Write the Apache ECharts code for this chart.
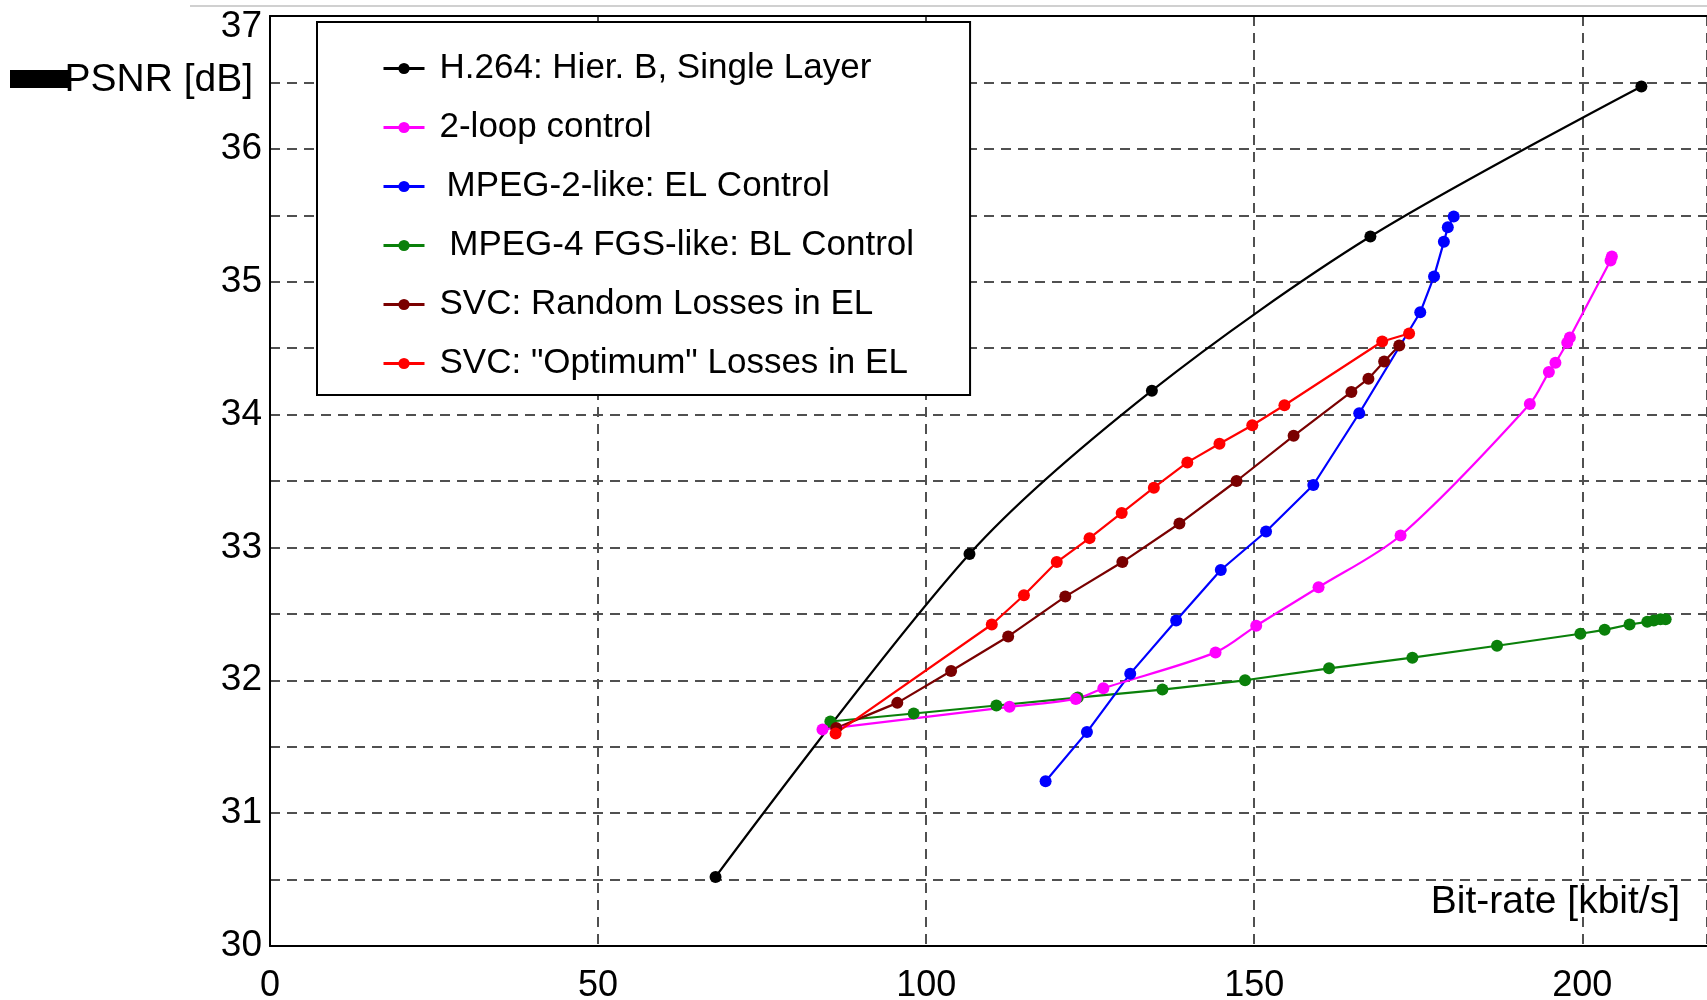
<!DOCTYPE html>
<html>
<head>
<meta charset="utf-8">
<script src="https://cdn.jsdelivr.net/npm/echarts@6/dist/echarts.min.js"></script>
<style>
  html, body { margin: 0; padding: 0; background: #fff; }
  #main { width: 1707px; height: 1000px; }
</style>
</head>
<body>
<div id="main"></div>
<script>
// series names as in the legend
var names = [
  'H.264: Hier. B, Single Layer',
  '2-loop control',
  '\u2009MPEG-2-like: EL Control',
  ' MPEG-4 FGS-like: BL Control',
  'SVC: Random Losses in EL',
  'SVC: "Optimum" Losses in EL'
];

// [bit-rate kbit/s, PSNR dB]
var h264 = [[67.9, 30.52], [106.6, 32.95], [134.4, 34.18], [167.7, 35.34], [209.0, 36.47]];
var twoLoop = [[84.2, 31.63], [112.7, 31.80], [122.8, 31.86], [127.0, 31.94], [144.1, 32.21],
  [150.3, 32.41], [159.8, 32.70], [172.3, 33.09], [192.0, 34.08], [194.9, 34.32],
  [195.9, 34.39], [197.7, 34.54], [198.1, 34.58], [204.3, 35.16], [204.5, 35.19]];
var mpeg2 = [[118.2, 31.24], [124.5, 31.61], [131.1, 32.05], [138.1, 32.45], [144.9, 32.83],
  [151.8, 33.12], [159.0, 33.47], [166.0, 34.01], [175.3, 34.77], [177.4, 35.04],
  [178.9, 35.30], [179.5, 35.41], [180.4, 35.49]];
var mpeg4 = [[85.4, 31.69], [98.1, 31.75], [110.7, 31.81], [123.1, 31.87], [136.0, 31.93],
  [148.6, 32.00], [161.4, 32.09], [174.1, 32.17], [187.0, 32.26], [199.7, 32.35],
  [203.4, 32.38], [207.2, 32.42], [209.9, 32.44], [210.9, 32.45], [211.9, 32.46], [212.7, 32.46]];
var svcRandom = [[86.3, 31.64], [95.6, 31.83], [103.8, 32.07], [112.5, 32.33], [121.2, 32.63],
  [129.9, 32.89], [138.6, 33.18], [147.3, 33.50], [156.0, 33.84], [164.8, 34.17],
  [167.4, 34.27], [169.8, 34.40], [172.1, 34.52]];
var svcOptimum = [[86.2, 31.60], [110.0, 32.42], [114.9, 32.64], [119.9, 32.89], [124.9, 33.07],
  [129.8, 33.26], [134.7, 33.45], [139.8, 33.64], [144.7, 33.78], [149.7, 33.92],
  [154.6, 34.07], [169.5, 34.55], [173.6, 34.61]];

var xTicks = [0, 50, 100, 150, 200];
var yTicks = [30, 31, 32, 33, 34, 35, 36, 37];

var font = '"Liberation Sans", Arial, sans-serif';
var gridDash = { color: '#505050', width: 2, type: [10, 7] };

function line(name, data, color, smooth) {
  return {
    name: name,
    type: 'line',
    data: data,
    smooth: smooth ? 0.3 : false,
    symbol: 'circle',
    symbolSize: 12,
    showAllSymbol: true,
    itemStyle: { color: color },
    lineStyle: { color: color, width: 2.2 }
  };
}

var chartDom = document.getElementById('main');
var myChart = echarts.init(chartDom);

var option = {
  animation: false,
  backgroundColor: '#fff',
  textStyle: { fontFamily: font },
  grid: { left: 270, top: 16, right: 0, bottom: 54, containLabel: false, outerBoundsMode: 'none' },
  legend: {
    data: names,
    orient: 'vertical',
    left: 317,
    top: 22,
    backgroundColor: '#fff',
    borderColor: '#000',
    borderWidth: 2,
    borderRadius: 0,
    padding: [29, 56, 14, 65],
    itemGap: 24,
    itemWidth: 41,
    itemHeight: 14,
    lineStyle: { width: 3 },
    textStyle: { fontSize: 35, lineHeight: 35, color: '#000', fontFamily: font, padding: [0, 0, 0, 10] }
  },
  xAxis: [{
    type: 'value',
    min: 0,
    max: 219,
    interval: 50,
    axisLine: { lineStyle: { color: '#000', width: 2 } },
    axisTick: { show: false },
    axisLabel: {
      fontSize: 36, color: '#000', margin: 22, fontFamily: font,
      formatter: function (v) { return xTicks.indexOf(v) >= 0 ? String(v) : ''; }
    },
    splitLine: { show: true, lineStyle: gridDash }
  }, {
    type: 'value',
    position: 'top',
    min: 0,
    max: 219,
    axisLine: { show: true, lineStyle: { color: '#000', width: 2 } },
    axisTick: { show: false },
    axisLabel: { show: false },
    splitLine: { show: false }
  }],
  yAxis: {
    type: 'value',
    min: 30,
    max: 37,
    interval: 0.5,
    axisLine: { show: true, lineStyle: { color: '#000', width: 2 } },
    axisTick: { show: false },
    axisLabel: {
      fontSize: 37, color: '#000', margin: 8, fontFamily: font,
      formatter: function (v) {
        if (v === 37) return '{top|37}';
        return yTicks.indexOf(v) >= 0 ? String(v) : '';
      },
      rich: { top: { fontSize: 37, color: '#000', fontFamily: font, padding: [22, 0, 0, 0] } }
    },
    splitLine: { show: true, lineStyle: gridDash }
  },
  graphic: [
    { type: 'line', shape: { x1: 190, y1: 6, x2: 1707, y2: 6 }, style: { stroke: '#d0d0d0', lineWidth: 2 } },
    { type: 'text', x: 253, y: 80, z: 10,
      style: { text: 'PSNR [dB]', font: '39px ' + font, fill: '#000', textAlign: 'right', textVerticalAlign: 'middle' } },
    { type: 'rect', shape: { x: 10, y: 70, width: 58, height: 18 }, style: { fill: '#000' }, z: 20 },
    { type: 'text', x: 1680, y: 902, z: 10,
      style: { text: 'Bit-rate [kbit/s]', font: '39px ' + font, fill: '#000', textAlign: 'right', textVerticalAlign: 'middle' } }
  ],
  series: [
    line(names[0], h264, '#000000', true),
    line(names[3], mpeg4, '#0a800a', false),
    line(names[4], svcRandom, '#7a0000', false),
    line(names[2], mpeg2, '#0000ff', false),
    line(names[1], twoLoop, '#ff00ff', true),
    line(names[5], svcOptimum, '#ff0000', false)
  ]
};

if (chartDom && myChart) {
  myChart.setOption(option);
} else {
  console.error('Failed to initialize the chart');
}
</script>
</body>
</html>
